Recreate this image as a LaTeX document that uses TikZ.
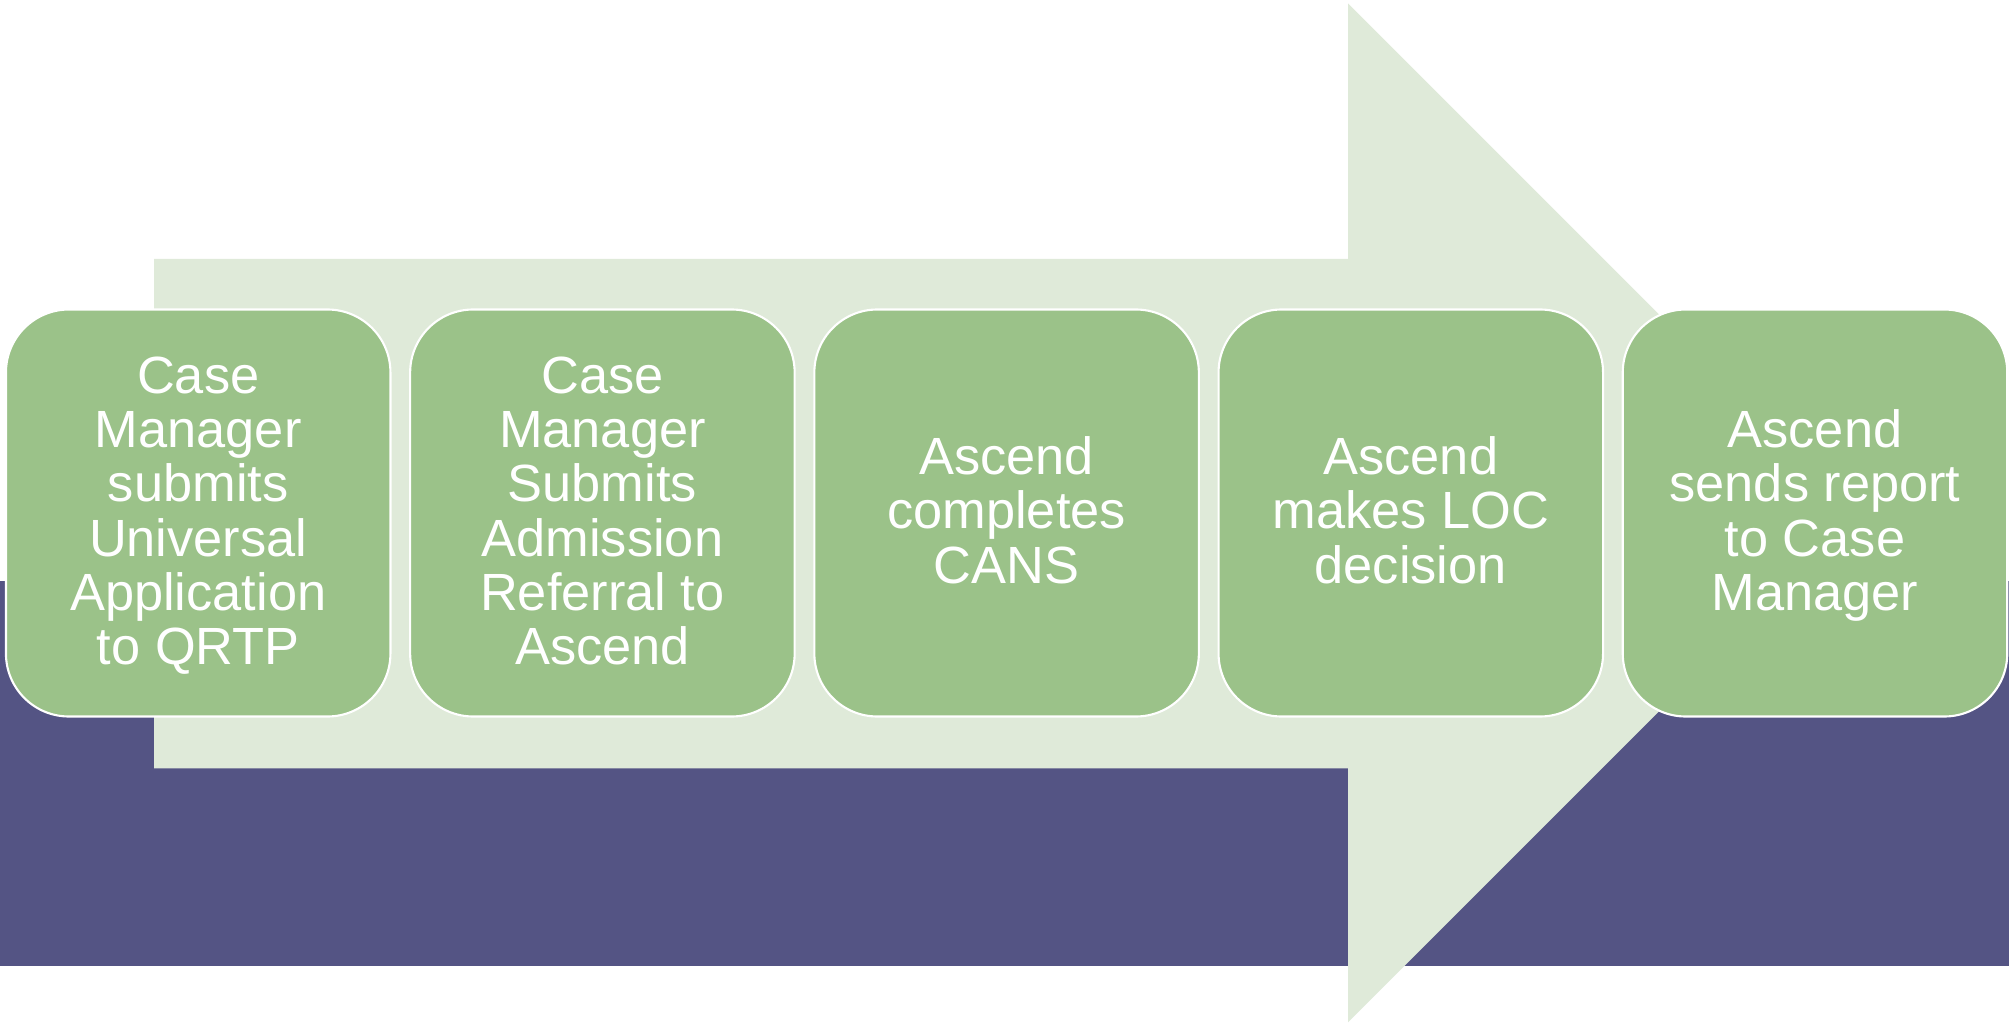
\documentclass[tikz,border=0pt]{standalone}
\usepackage{fontspec}
\setmainfont{Liberation Sans}
\usetikzlibrary{calc,shapes}
\definecolor{violetfond}{RGB}{84,84,132}
\definecolor{vertpale}{RGB}{223,234,217}
\definecolor{vertboite}{RGB}{155,194,137}
\newcommand{\calehaut}{\rule{0pt}{13pt}}
\newcommand{\calebas}{\rule[-3.9pt]{0pt}{3.9pt}}

\begin{document}
\begin{tikzpicture}[stepbox/.style={draw=white,line width=0.6pt,fill=vertboite,rounded corners=0.63cm,minimum width=3.845cm,minimum height=4.07cm,inner sep=0pt,align=center,text=white,font=\fontsize{14.9}{15.45}\selectfont}]
						% Fond
						\useasboundingbox (0,0) rectangle (20.09,10.24);
						\fill [violetfond] (0,0.583) rectangle (20.09,4.435);
						\fill [vertpale] (1.54,2.557) -- (13.48,2.557) -- (13.48,0.017) -- (18.575,5.112) -- (13.48,10.207) -- (13.48,7.65) -- (1.54,7.65) -- cycle;
						% Etapes
						\node [stepbox] (demande) at (1.982,5.11) {\calehaut Case\\Manager\\submits\\Universal\\Application\\to QRTP\calebas};
						\node [stepbox] (admission) at (6.024,5.11) {\calehaut Case\\Manager\\Submits\\Admission\\Referral to\\Ascend\calebas};
						\node [stepbox] (cans) at (10.066,5.11) {\calehaut Ascend\\completes\\CANS\calebas};
						\node [stepbox] (decision) at (14.108,5.11) {\calehaut Ascend\\makes LOC\\decision\calebas};
						\node [stepbox] (rapport) at (18.150,5.11) {\calehaut Ascend\\sends report\\to Case\\Manager\calebas};
						\end{tikzpicture}
\end{document}
